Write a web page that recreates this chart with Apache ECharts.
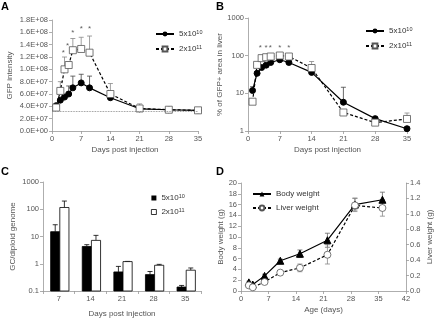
<!DOCTYPE html>
<html>
<head>
<meta charset="utf-8">
<script src="https://cdn.jsdelivr.net/npm/echarts@6/dist/echarts.min.js"></script>
<style>
  html, body { margin: 0; padding: 0; background: #fff; }
  #chart { width: 436px; height: 319px; }
</style>
</head>
<body>
<div id="chart"></div>
<script>
// panel A - GFP intensity
const daysA = [1, 2, 3, 4, 5, 7, 9, 14, 21, 28, 35];
const gfpLow = [4.1e7, 5.0e7, 5.5e7, 6.0e7, 7.0e7, 7.8e7, 7.0e7, 5.4e7, 3.6e7, 3.45e7, 3.35e7];
const gfpLowUp = [4.2e7, 5.3e7, 5.8e7, 7.3e7, 8.9e7, 9.2e7, 8.9e7, 5.6e7, 3.8e7, 3.55e7, 3.45e7];
const gfpHigh = [3.8e7, 6.5e7, 1.0e8, 1.07e8, 1.31e8, 1.33e8, 1.27e8, 6.0e7, 3.65e7, 3.45e7, 3.35e7];
const gfpHighUp = [4.0e7, 8.0e7, 1.2e8, 1.12e8, 1.5e8, 1.52e8, 1.54e8, 7.7e7, 4.4e7, 3.6e7, 3.45e7];
const gfpBaseline = 3.2e7;
const starXA = [2.7, 3.7, 5, 7, 9];
const starYA = [1.27e8, 1.38e8, 1.6e8, 1.65e8, 1.65e8];

// panel B - % GFP+ area in liver
const areaLow = [11.9, 34, 48.5, 56, 66, 78, 66, 36, 5.8, 2.13, 1.15];
const areaLowUp = [15, 38, 52, 60, 70, 83, 70, 38, 14.5, 2.3, 1.3];
const areaHigh = [6.0, 57, 86, 91, 95, 101, 95, 47, 3.1, 1.67, 2.09];
const areaHighUp = [6.5, 62, 92, 97, 101, 107, 101, 70, 3.5, 1.9, 3.0];
const starXB = [2.7, 4.0, 4.9, 7, 9];
const starYB = [165, 165, 165, 165, 165];

// panel C - GC/diploid genome
const gcCats = ['7', '14', '21', '28', '35'];
const gcLow = [15, 4.3, 0.5, 0.4, 0.14];
const gcLowUp = [27, 5, 0.8, 0.52, 0.16];
const gcHigh = [116, 7.2, 1.2, 0.88, 0.58];
const gcHighUp = [200, 11, 1.22, 0.95, 0.7];

// panel D - body / liver weight
const ageDays = [2, 3, 6, 10, 15, 22, 29, 36];
const body = [1.6, 1.2, 2.8, 5.6, 6.9, 9.4, 16.0, 16.9];
const bodyLo = [1.4, 1.0, 2.5, 5.3, 6.2, 8.1, 15.0, 15.6];
const bodyHi = [1.8, 1.4, 3.1, 5.9, 7.6, 10.7, 17.2, 18.3];
const liver = [0.073, 0.048, 0.117, 0.238, 0.30, 0.47, 1.11, 1.076];
const liverLo = [0.06, 0.04, 0.1, 0.22, 0.25, 0.35, 1.03, 0.97];
const liverHi = [0.085, 0.056, 0.135, 0.255, 0.35, 0.6, 1.2, 1.18];

const font = 'Liberation Sans';
const axisGray = '#999';
const labelGray = '#555';

const zip = (xs, ...cols) => xs.map((x, i) => [x, ...cols.map(c => c[i])]);

function errBar(color, twoSided) {
  return function (params, api) {
    const x = api.value(0);
    const lo = api.coord([x, api.value(1)]);
    const hi = api.coord([x, api.value(2)]);
    const w = 2.5;
    const st = { stroke: color, lineWidth: 0.8 };
    const kids = [
      { type: 'line', shape: { x1: lo[0], y1: lo[1], x2: hi[0], y2: hi[1] }, style: st },
      { type: 'line', shape: { x1: hi[0] - w, y1: hi[1], x2: hi[0] + w, y2: hi[1] }, style: st }
    ];
    if (twoSided) {
      kids.push({ type: 'line', shape: { x1: lo[0] - w, y1: lo[1], x2: lo[0] + w, y2: lo[1] }, style: st });
    }
    return { type: 'group', children: kids };
  };
}

function barItem(fill, side) {
  return function (params, api) {
    const idx = api.value(0);
    const top = api.coord([idx, api.value(1)]);
    const base = api.coord([idx, 0.1]);
    const cap = api.coord([idx, api.value(2)]);
    const bw = api.size([1, 0])[0] * 0.29;
    const x0 = side < 0 ? top[0] + 1 - bw : top[0] + 1;
    const cx = x0 + bw / 2;
    const st = { stroke: '#000', lineWidth: 0.8 };
    return { type: 'group', children: [
      { type: 'line', shape: { x1: cx, y1: top[1], x2: cx, y2: cap[1] }, style: st },
      { type: 'line', shape: { x1: cx - 2.5, y1: cap[1], x2: cx + 2.5, y2: cap[1] }, style: st },
      { type: 'rect', shape: { x: x0, y: top[1], width: bw, height: base[1] - top[1] },
        style: { fill: fill, stroke: '#000', lineWidth: 0.8 } }
    ] };
  };
}

function valAxis(grid, extra) {
  return Object.assign({
    gridIndex: grid,
    axisLine: { show: true, lineStyle: { color: axisGray, width: 0.8 } },
    axisTick: { show: true, length: 3, lineStyle: { color: axisGray, width: 0.8 } },
    axisLabel: { fontSize: 7.5, color: labelGray, fontFamily: font, margin: 4 },
    splitLine: { show: false },
    nameLocation: 'middle',
    nameTextStyle: { fontSize: 8, color: labelGray, fontFamily: font }
  }, extra);
}

const sciFmt = v => v.toExponential(1).toUpperCase().replace(/E([+-])(\d)$/, 'E$10$2');
const plainFmt = v => String(v);
const logLabel = { fontSize: 7.5, color: labelGray, fontFamily: font, margin: 4, formatter: plainFmt };

const legendRich = {
  fontSize: 8, color: '#333', fontFamily: font,
  rich: { s: { fontSize: 5.5, color: '#333', fontFamily: font, verticalAlign: 'top', padding: [0, 0, 4, 0] } }
};
const doseNames = { a1: '5x10{s|10}', a2: '2x10{s|11}', b1: '5x10{s|10}', b2: '2x10{s|11}', c1: '5x10{s|10}', c2: '2x10{s|11}' };
const doseFmt = n => doseNames[n];

const filled = { color: '#000', borderColor: '#000' };
const open = { color: '#fff', borderColor: '#555', borderWidth: 0.8 };

function starSeries(xi, yi, xs, ys) {
  return {
    type: 'scatter', xAxisIndex: xi, yAxisIndex: yi, data: zip(xs, ys),
    symbolSize: 1, itemStyle: { color: 'rgba(0,0,0,0)' }, silent: true,
    label: { show: true, formatter: '*', position: 'inside', fontSize: 8, color: '#333', fontFamily: font }
  };
}

const option = {
  animation: false,
  textStyle: { fontFamily: font },
  title: [
    { text: 'A', left: 1, top: 1 },
    { text: 'B', left: 216, top: 1 },
    { text: 'C', left: 1, top: 166 },
    { text: 'D', left: 216, top: 166 }
  ].map(t => Object.assign(t, { padding: 0, textStyle: { fontSize: 11, fontWeight: 'bold', color: '#000', fontFamily: font } })),
  grid: [
    { left: 52, top: 20, width: 146, height: 111 },
    { left: 248, top: 18, width: 159, height: 113 },
    { left: 43, top: 182, width: 158, height: 109 },
    { left: 241, top: 183, width: 165, height: 108 }
  ],
  legend: [
    { left: 150, top: 24, orient: 'vertical', itemWidth: 18, itemHeight: 6, itemGap: 6,
      data: ['a1', 'a2'], formatter: doseFmt, textStyle: legendRich, selectedMode: false },
    { left: 360, top: 21, orient: 'vertical', itemWidth: 18, itemHeight: 6, itemGap: 6,
      data: ['b1', 'b2'], formatter: doseFmt, textStyle: legendRich, selectedMode: false },
    { left: 146, top: 188, orient: 'vertical', itemWidth: 5, itemHeight: 5, itemGap: 5,
      data: [
        { name: 'c1', icon: 'rect', itemStyle: { color: '#000' } },
        { name: 'c2', icon: 'rect', itemStyle: { color: '#fff', borderColor: '#000', borderWidth: 0.8 } }
      ], formatter: doseFmt, textStyle: legendRich, selectedMode: false },
    { left: 247, top: 185, orient: 'vertical', itemWidth: 18, itemHeight: 6, itemGap: 6,
      data: ['Body weight', 'Liver weight'], textStyle: { fontSize: 8, color: '#333', fontFamily: font }, selectedMode: false }
  ],
  xAxis: [
    valAxis(0, { type: 'value', min: 0, max: 35, interval: 7, name: 'Days post injection', nameGap: 15 }),
    valAxis(1, { type: 'value', min: 0, max: 35, interval: 7, name: 'Days post injection', nameGap: 15 }),
    valAxis(2, { type: 'category', data: gcCats, name: 'Days post injection', nameGap: 19,
      axisTick: { show: true, length: 3, lineStyle: { color: axisGray, width: 0.8 } } }),
    valAxis(3, { type: 'value', min: 0, max: 42, interval: 7, name: 'Age (days)', nameGap: 15 })
  ],
  yAxis: [
    valAxis(0, { type: 'value', min: 0, max: 1.8e8, interval: 2e7, name: 'GFP intensity', nameGap: 38,
      axisLabel: { fontSize: 7.5, color: labelGray, fontFamily: font, margin: 4, formatter: sciFmt } }),
    valAxis(1, { type: 'log', logBase: 10, min: 1, max: 1000, name: '% of GFP+ area in liver', nameGap: 20, axisLabel: logLabel }),
    valAxis(2, { type: 'log', logBase: 10, min: 0.1, max: 1000, name: 'GC/diploid genome', nameGap: 26, axisLabel: logLabel }),
    valAxis(3, { type: 'value', min: 0, max: 20, interval: 2, name: 'Body weight (g)', nameGap: 16 }),
    valAxis(3, { type: 'value', min: 0, max: 1.4, interval: 0.2, position: 'right', name: 'Liver weight (g)', nameGap: 20,
      axisLabel: { fontSize: 7.5, color: labelGray, fontFamily: font, margin: 4, formatter: v => v.toFixed(1) } })
  ],
  series: [
    // A
    { type: 'custom', xAxisIndex: 0, yAxisIndex: 0, z: 1, renderItem: errBar('#888', false), data: zip(daysA, gfpHigh, gfpHighUp) },
    { type: 'custom', xAxisIndex: 0, yAxisIndex: 0, z: 1, renderItem: errBar('#444', false), data: zip(daysA, gfpLow, gfpLowUp) },
    { name: 'a1', type: 'line', xAxisIndex: 0, yAxisIndex: 0, data: zip(daysA, gfpLow),
      symbol: 'circle', symbolSize: 6, itemStyle: filled, lineStyle: { color: '#000', width: 1.2 },
      markLine: { silent: true, symbol: 'none', label: { show: false },
        lineStyle: { color: '#777', type: 'dotted', width: 0.8 }, data: [{ yAxis: gfpBaseline }] } },
    { name: 'a2', type: 'line', xAxisIndex: 0, yAxisIndex: 0, data: zip(daysA, gfpHigh),
      symbol: 'rect', symbolSize: 7, itemStyle: open, lineStyle: { color: '#000', width: 1.2, type: [3, 2] } },
    starSeries(0, 0, starXA, starYA),
    // B
    { type: 'custom', xAxisIndex: 1, yAxisIndex: 1, z: 1, renderItem: errBar('#888', false), data: zip(daysA, areaHigh, areaHighUp) },
    { type: 'custom', xAxisIndex: 1, yAxisIndex: 1, z: 1, renderItem: errBar('#444', false), data: zip(daysA, areaLow, areaLowUp) },
    { name: 'b1', type: 'line', xAxisIndex: 1, yAxisIndex: 1, data: zip(daysA, areaLow),
      symbol: 'circle', symbolSize: 6, itemStyle: filled, lineStyle: { color: '#000', width: 1.2 } },
    { name: 'b2', type: 'line', xAxisIndex: 1, yAxisIndex: 1, data: zip(daysA, areaHigh),
      symbol: 'rect', symbolSize: 7, itemStyle: open, lineStyle: { color: '#000', width: 1.2, type: [3, 2] } },
    starSeries(1, 1, starXB, starYB),
    // C
    { name: 'c1', type: 'custom', xAxisIndex: 2, yAxisIndex: 2, renderItem: barItem('#000', -1),
      data: zip(gcCats.map((c, i) => i), gcLow, gcLowUp) },
    { name: 'c2', type: 'custom', xAxisIndex: 2, yAxisIndex: 2, renderItem: barItem('#fff', 1),
      data: zip(gcCats.map((c, i) => i), gcHigh, gcHighUp) },
    // D
    { type: 'custom', xAxisIndex: 3, yAxisIndex: 3, z: 1, renderItem: errBar('#666', true), data: zip(ageDays, bodyLo, bodyHi) },
    { type: 'custom', xAxisIndex: 3, yAxisIndex: 4, z: 1, renderItem: errBar('#888', true), data: zip(ageDays, liverLo, liverHi) },
    { name: 'Body weight', type: 'line', xAxisIndex: 3, yAxisIndex: 3, data: zip(ageDays, body),
      symbol: 'triangle', symbolSize: 7, itemStyle: filled, lineStyle: { color: '#000', width: 1.2 } },
    { name: 'Liver weight', type: 'line', xAxisIndex: 3, yAxisIndex: 4, data: zip(ageDays, liver),
      symbol: 'circle', symbolSize: 7, itemStyle: open, lineStyle: { color: '#000', width: 1.2, type: [3, 2] } }
  ]
};

const myChart = echarts.init(document.getElementById('chart'));
myChart.setOption(option);
</script>
</body>
</html>
